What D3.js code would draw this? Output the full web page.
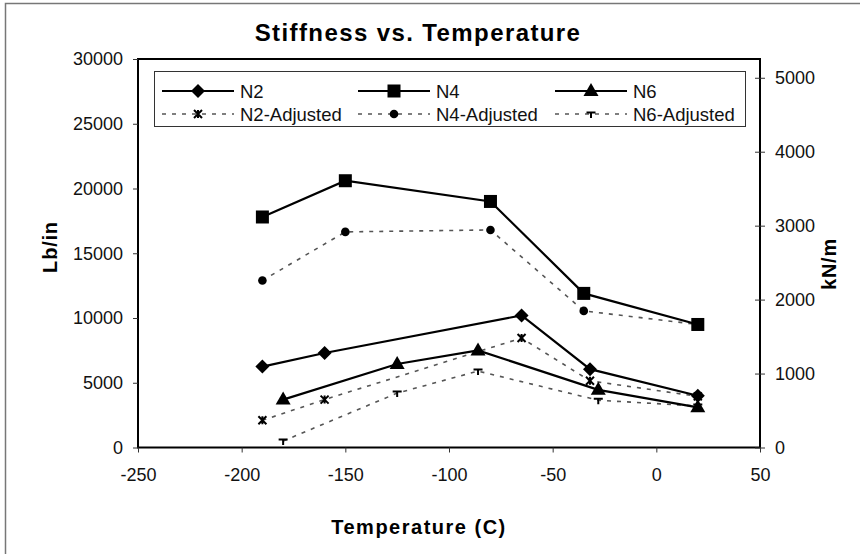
<!DOCTYPE html>
<html>
<head>
<meta charset="utf-8">
<script src="https://cdn.jsdelivr.net/npm/d3@7"></script>
<style>
  body { margin: 0; background: #fff; }
  svg { font-family: "Liberation Sans", Arial, sans-serif; }
</style>
</head>
<body>
<svg id="chart" width="860" height="554"></svg>
<script>
// ---- data ----
const xTicks = [-250, -200, -150, -100, -50, 0, 50];
const yTicksLeft = [0, 5000, 10000, 15000, 20000, 25000, 30000];
const yTicksRight = [0, 1000, 2000, 3000, 4000, 5000];

const n2Temp = [-190, -160, -65, -32, 20];
const n2Vals = [6250, 7300, 10200, 6050, 4000];
const n4Temp = [-190, -150, -80, -35, 20];
const n4Vals = [17800, 20600, 19000, 11900, 9500];
const n6Temp = [-180, -125, -86, -28, 20];
const n6Vals = [3700, 6450, 7500, 4450, 3100];
const n2AdjTemp = [-190, -160, -65, -32, 20];
const n2AdjVals = [2100, 3700, 8450, 5150, 3950];
const n4AdjTemp = [-190, -150, -80, -35, 20];
const n4AdjVals = [12900, 16650, 16800, 10550, 9500];
const n6AdjTemp = [-180, -125, -86, -28, 20];
const n6AdjVals = [500, 4200, 5900, 3650, 3200];

const lbinToKNm = 0.175127;

const series = [
  {name: "N2", t: n2Temp, v: n2Vals, marker: "diamond", dashed: false},
  {name: "N4", t: n4Temp, v: n4Vals, marker: "square", dashed: false},
  {name: "N6", t: n6Temp, v: n6Vals, marker: "triangle", dashed: false},
  {name: "N2-Adjusted", t: n2AdjTemp, v: n2AdjVals, marker: "star", dashed: true},
  {name: "N4-Adjusted", t: n4AdjTemp, v: n4AdjVals, marker: "circle", dashed: true},
  {name: "N6-Adjusted", t: n6AdjTemp, v: n6AdjVals, marker: "tee", dashed: true}
];

// ---- layout ----
const svg = d3.select("#chart");
const pL = 138, pR = 760, pT = 59, pB = 447.5;

const x = d3.scaleLinear().domain([-250, 50]).range([pL, pR]);
const y = d3.scaleLinear().domain([0, 30000]).range([pB, pT]);
const y2 = d3.scaleLinear().domain([0, 30000 * lbinToKNm]).range([pB, pT]);

// outer frame
svg.append("path")
  .attr("d", `M5.5,560 L5.5,3.5 L870,3.5`)
  .attr("fill", "none").attr("stroke", "#777").attr("stroke-width", 1.5);

// title
svg.append("text").attr("x", 418).attr("y", 41)
  .attr("text-anchor", "middle").attr("font-size", 24).attr("font-weight", "bold")
  .attr("letter-spacing", 1.4)
  .text("Stiffness vs. Temperature");

// plot frame
svg.append("rect").attr("x", pL).attr("y", pT)
  .attr("width", pR - pL).attr("height", pB - pT)
  .attr("fill", "none").attr("stroke", "#000").attr("stroke-width", 2);

// axes
const fs = 18;
const fmt = d => String(d);
const gx = svg.append("g").attr("transform", `translate(0,${pB})`)
  .call(d3.axisBottom(x).tickValues(xTicks).tickSize(5).tickPadding(16).tickFormat(fmt));
const gy = svg.append("g").attr("transform", `translate(${pL},0)`)
  .call(d3.axisLeft(y).tickValues(yTicksLeft).tickSize(5).tickPadding(10).tickFormat(fmt));
const gy2 = svg.append("g").attr("transform", `translate(${pR},0)`)
  .call(d3.axisRight(y2).tickValues(yTicksRight).tickSize(5).tickPadding(10).tickFormat(fmt));
gy2.selectAll(".tick line").attr("x1", -5);
[gx, gy, gy2].forEach(g => {
  g.select(".domain").remove();
  g.selectAll("text").attr("font-size", fs).attr("fill", "#111")
    .attr("font-family", '"Liberation Sans", Arial, sans-serif');
  g.selectAll(".tick line").attr("stroke", "#333");
});

// axis titles
svg.append("text").attr("transform", `translate(57,247) rotate(-90)`)
  .attr("text-anchor", "middle").attr("font-size", 20).attr("font-weight", "bold")
  .attr("letter-spacing", 0.8).text("Lb/in");
svg.append("text").attr("transform", `translate(836,264) rotate(-90)`)
  .attr("text-anchor", "middle").attr("font-size", 20).attr("font-weight", "bold")
  .attr("letter-spacing", 0.8).text("kN/m");
svg.append("text").attr("x", 419).attr("y", 534)
  .attr("text-anchor", "middle").attr("font-size", 20).attr("font-weight", "bold")
  .attr("letter-spacing", 1.5).text("Temperature (C)");

// markers
function drawMarker(g, type, cx, cy) {
  if (type === "diamond") {
    g.append("path").attr("d", `M${cx},${cy-7} L${cx+7},${cy} L${cx},${cy+7} L${cx-7},${cy} Z`).attr("fill", "#000");
  } else if (type === "square") {
    g.append("rect").attr("x", cx - 6.5).attr("y", cy - 6.5).attr("width", 13).attr("height", 13).attr("fill", "#000");
  } else if (type === "triangle") {
    g.append("path").attr("d", `M${cx},${cy-8} L${cx+7.5},${cy+5} L${cx-7.5},${cy+5} Z`).attr("fill", "#000");
  } else if (type === "circle") {
    g.append("circle").attr("cx", cx).attr("cy", cy).attr("r", 4.3).attr("fill", "#000");
  } else if (type === "star") {
    g.append("path").attr("d",
      `M${cx-4},${cy-4} L${cx+4},${cy+4} M${cx+4},${cy-4} L${cx-4},${cy+4} M${cx},${cy-4} L${cx},${cy+4}`)
      .attr("stroke", "#000").attr("stroke-width", 2).attr("fill", "none");
  } else if (type === "tee") {
    g.append("path").attr("d", `M${cx-4.5},${cy-1.5} L${cx+4.5},${cy-1.5} M${cx},${cy-1.5} L${cx},${cy+4}`)
      .attr("stroke", "#000").attr("stroke-width", 2).attr("fill", "none");
  }
}

const line = d3.line().x(d => x(d[0])).y(d => y(d[1]));

const plot = svg.append("g");
// dashed first, solid on top
const order = [3, 4, 5, 0, 1, 2];
order.forEach(i => {
  const s = series[i];
  const pts = s.t.map((t, k) => [t, s.v[k]]);
  plot.append("path").datum(pts).attr("d", line).attr("fill", "none")
    .attr("stroke", s.dashed ? "#555" : "#000")
    .attr("stroke-width", s.dashed ? 1.6 : 2.2)
    .attr("stroke-dasharray", s.dashed ? "4,6" : null);
  const mg = plot.append("g");
  pts.forEach(p => drawMarker(mg, s.marker, x(p[0]), y(p[1])));
});

// legend
const lg = svg.append("g");
lg.append("rect").attr("x", 154.5).attr("y", 71.5).attr("width", 591).attr("height", 55)
  .attr("fill", "#fff").attr("stroke", "#333").attr("stroke-width", 1);
const colX = [162, 358, 555];
const rowY = [91, 114];
series.forEach((s, i) => {
  const cx = colX[i % 3], cy = rowY[Math.floor(i / 3)];
  lg.append("line").attr("x1", cx).attr("x2", cx + 72).attr("y1", cy).attr("y2", cy)
    .attr("stroke", s.dashed ? "#555" : "#000")
    .attr("stroke-width", s.dashed ? 1.5 : 2)
    .attr("stroke-dasharray", s.dashed ? "4,6" : null);
  drawMarker(lg, s.marker, cx + 36, cy);
  lg.append("text").attr("x", cx + 78).attr("y", cy + 6.5).attr("font-size", 18.5)
    .attr("fill", "#111").text(s.name);
});
</script>
</body>
</html>
